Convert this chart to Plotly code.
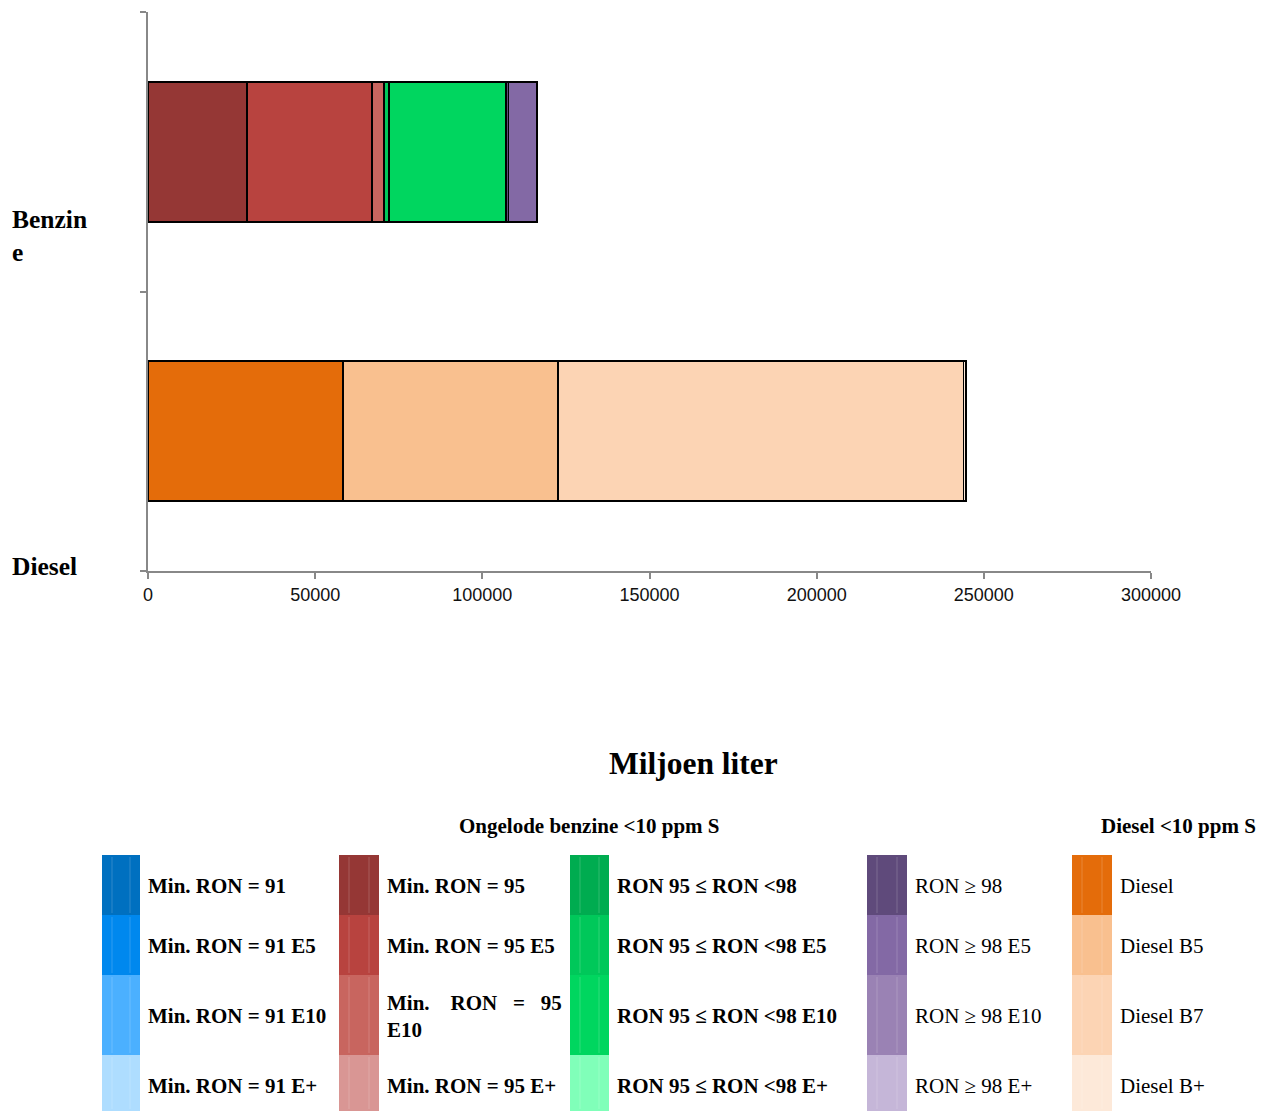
import plotly.graph_objects as go

# ---------------- data ----------------
categories = ["Diesel", "Benzine"]  # bottom to top
series_names = [
    "Min. RON = 91", "Min. RON = 91 E5", "Min. RON = 91 E10", "Min. RON = 91 E+",
    "Min. RON = 95", "Min. RON = 95 E5", "Min. RON = 95 E10", "Min. RON = 95 E+",
    "RON 95 ≤ RON <98", "RON 95 ≤ RON <98 E5", "RON 95 ≤ RON <98 E10", "RON 95 ≤ RON <98 E+",
    "RON ≥ 98", "RON ≥ 98 E5", "RON ≥ 98 E10", "RON ≥ 98 E+",
    "Diesel", "Diesel B5", "Diesel B7", "Diesel B+",
]
series_colors = [
    "#0070C0", "#0088EE", "#4BB0FF", "#AEDDFF",
    "#953735", "#B8433F", "#C8655F", "#D99694",
    "#00AC50", "#00C85A", "#00D65F", "#80FFB9",
    "#5F4A7B", "#8369A5", "#9A82B4", "#C5B6D8",
    "#E46C0A", "#F9C08F", "#FCD4B4", "#FDE9D9",
]
benzine_values = [0, 0, 0, 0,
                  29500, 37550, 3600, 0,
                  0, 1500, 35000, 0,
                  700, 8500, 0, 0,
                  0, 0, 0, 0]
diesel_values = [0, 0, 0, 0,
                 0, 0, 0, 0,
                 0, 0, 0, 0,
                 0, 0, 0, 0,
                 58300, 64400, 121200, 700]
x_ticks = [0, 50000, 100000, 150000, 200000, 250000, 300000]

# ---------------- figure ----------------
W, H = 1269, 1111
L, R, T, B = 148, 118, 12, 540
PW, PH = W - L - R, H - T - B

def X(px):
    return (px - L) / PW

def Y(py):
    return (T + PH - py) / PH

fig = go.Figure()
for name, col, bv, dv in zip(series_names, series_colors, benzine_values, diesel_values):
    fig.add_trace(go.Bar(
        y=categories, x=[dv, bv], orientation="h", name=name,
        marker=dict(color=col, line=dict(color="black", width=1.8)),
        width=0.5, showlegend=False,
    ))

serif = "Liberation Serif, Times New Roman, serif"

fig.update_layout(
    width=W, height=H, barmode="stack",
    margin=dict(l=L, r=R, t=T, b=B, pad=0),
    paper_bgcolor="white", plot_bgcolor="white",
    xaxis=dict(range=[0, 300000], tickvals=x_ticks, tickformat="d",
               showgrid=False, zeroline=False, showline=True, linecolor="#888888", linewidth=2,
               ticks="outside", ticklen=6, tickcolor="#888888", tickwidth=1.5,
               tickfont=dict(family="Liberation Sans, Arial, sans-serif", size=18, color="#111111")),
    yaxis=dict(type="category", categoryorder="array", categoryarray=categories,
               range=[-0.5, 1.5], showticklabels=False, showgrid=False, zeroline=False,
               showline=True, linecolor="#888888", linewidth=2,
               ticks="outside", tickson="boundaries", ticklen=6, tickcolor="#888888", tickwidth=1.5),
)

ann = []
# category labels
ann.append(dict(text="<b>Benzin<br>e</b>", x=X(10), y=Y(236), xanchor="left", yanchor="middle", align="left"))
ann.append(dict(text="<b>Diesel</b>", x=X(10), y=Y(566), xanchor="left", yanchor="middle", align="left"))
for a in ann:
    a.update(xref="paper", yref="paper", showarrow=False, font=dict(family=serif, size=25.5, color="black"))

# titles
ann.append(dict(text="<b>Miljoen liter</b>", x=X(693), y=Y(763), xref="paper", yref="paper",
                showarrow=False, xanchor="center", yanchor="middle",
                font=dict(family=serif, size=31.5, color="black")))
ann.append(dict(text="<b>Ongelode benzine <10 ppm S</b>", x=X(589), y=Y(826), xref="paper", yref="paper",
                showarrow=False, xanchor="center", yanchor="middle",
                font=dict(family=serif, size=21, color="black")))
ann.append(dict(text="<b>Diesel <10 ppm S</b>", x=X(1178), y=Y(826), xref="paper", yref="paper",
                showarrow=False, xanchor="center", yanchor="middle",
                font=dict(family=serif, size=21, color="black")))

# legend table
col_x = [102, 339, 570, 867, 1072]
sw_w = [38, 40, 39, 40, 40]
row_edges = [855, 915, 975, 1055, 1111]
row_text_y = [886, 946, 1016, 1086]
bold_col = [True, True, True, False, False]
shapes = []
nb = "\u00a0"
for ci in range(5):
    for ri in range(4):
        idx = ci * 4 + ri
        x0 = col_x[ci]
        x1 = x0 + sw_w[ci]
        shapes.append(dict(type="rect", xref="paper", yref="paper",
                           x0=X(x0), x1=X(x1), y0=Y(row_edges[ri + 1]), y1=Y(row_edges[ri]),
                           fillcolor=series_colors[idx], line=dict(width=0), layer="above"))
        for off in (10, sw_w[ci] - 10):
            shapes.append(dict(type="line", xref="paper", yref="paper",
                               x0=X(x0 + off), x1=X(x0 + off), y0=Y(row_edges[ri + 1] - 2), y1=Y(row_edges[ri] + 2),
                               line=dict(color="rgba(255,255,255,0.18)", width=1), layer="above"))
        label = series_names[idx]
        if label == "Min. RON = 95 E10":
            label = "Min." + nb * 4 + "RON" + nb * 3 + "=" + nb * 3 + "95<br>E10"
        if bold_col[ci]:
            label = "<b>" + label + "</b>"
        ann.append(dict(text=label, x=X(x1 + 6), y=Y(row_text_y[ri]), xref="paper", yref="paper",
                        showarrow=False, xanchor="left", yanchor="middle", align="left",
                        font=dict(family=serif, size=21, color="black")))

fig.update_layout(annotations=ann, shapes=shapes)
fig.write_html("out.html")
